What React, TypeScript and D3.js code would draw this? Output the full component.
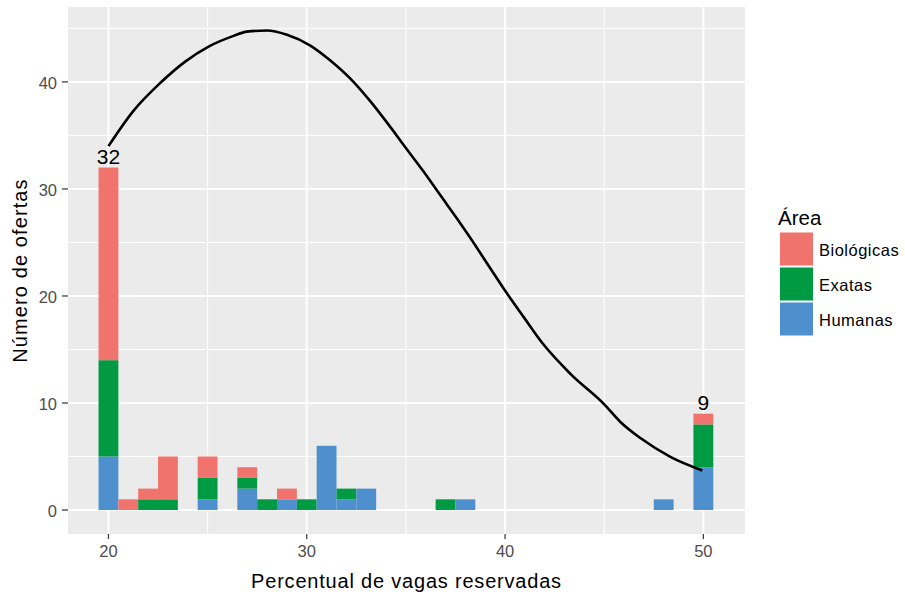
import React from "react";
import * as d3 from "d3";

const bins = [20, 21, 22, 23, 25, 27, 28, 29, 30, 31, 32, 33, 37, 38, 48, 50];
const humanas = [5, 0, 0, 0, 1, 2, 0, 1, 0, 6, 1, 2, 0, 1, 1, 4];
const exatas = [9, 0, 1, 1, 2, 1, 1, 0, 1, 0, 1, 0, 1, 0, 0, 4];
const biologicas = [18, 1, 1, 4, 2, 1, 0, 1, 0, 0, 0, 0, 0, 0, 0, 1];

const categories = ["Biológicas", "Exatas", "Humanas"];
const colors = ["#F0736D", "#009A43", "#4E8FCE"];

const curveX = [20, 21.26, 22.61, 23.87, 25.05, 26.31, 26.98, 27.99, 29.0, 30.18, 31.19, 32.2, 33.2, 34.21, 34.97, 35.9, 36.74, 37.59, 38.26, 39.18, 40.11, 40.95, 41.88, 43.31, 44.99, 45.83, 46.84, 48.36, 49.95];
const curveY = [34.0, 37.3, 39.9, 41.9, 43.3, 44.3, 44.7, 44.8, 44.4, 43.4, 42.0, 40.3, 38.2, 35.8, 33.9, 31.6, 29.4, 27.2, 25.4, 22.8, 20.2, 18.0, 15.6, 12.7, 9.9, 8.2, 6.7, 4.95, 3.7];

const xTicks = [20, 30, 40, 50];
const xMinor = [25, 35, 45];
const yTicks = [0, 10, 20, 30, 40];
const yMinor = [5, 15, 25, 35, 45];
const labelBins = [20, 50];

const W = 905, H = 596;
const pL = 68, pR = 745, pT = 7, pB = 534;

export default function App() {
  const x = d3.scaleLinear().domain([17.96, 52.1]).range([pL, pR]);
  const y = d3.scaleLinear().domain([-2.24, 47.0]).range([pB, pT]);
  const line = d3.line<number>().x((_, i) => x(curveX[i])).y((_, i) => y(curveY[i])).curve(d3.curveMonotoneX);
  const font = "Liberation Sans, Arial, sans-serif";
  const stacks = bins.map((b, i) => {
    const h = humanas[i], e = exatas[i], bi = biologicas[i];
    return [
      { c: 2, y0: 0, y1: h },
      { c: 1, y0: h, y1: h + e },
      { c: 0, y0: h + e, y1: h + e + bi },
    ].filter((s) => s.y1 > s.y0).map((s) => ({ ...s, b }));
  });
  return (
    <div style={{ position: "fixed", left: 0, top: 0 }}>
      <svg width={W} height={H} style={{ display: "block", background: "#fff" }} fontFamily={font}>
        <rect x={pL} y={pT} width={pR - pL} height={pB - pT} fill="#EBEBEB" />
        {xMinor.map((t) => (
          <line key={"xm" + t} x1={x(t)} x2={x(t)} y1={pT} y2={pB} stroke="#fff" strokeWidth={1} />
        ))}
        {yMinor.map((t) => (
          <line key={"ym" + t} x1={pL} x2={pR} y1={y(t)} y2={y(t)} stroke="#fff" strokeWidth={1} />
        ))}
        {xTicks.map((t) => (
          <line key={"xM" + t} x1={x(t)} x2={x(t)} y1={pT} y2={pB} stroke="#fff" strokeWidth={2} />
        ))}
        {yTicks.map((t) => (
          <line key={"yM" + t} x1={pL} x2={pR} y1={y(t)} y2={y(t)} stroke="#fff" strokeWidth={2} />
        ))}
        {stacks.flat().map((s, i) => (
          <rect key={"b" + i} x={x(s.b - 0.5)} width={x(s.b + 0.5) - x(s.b - 0.5)} y={y(s.y1)} height={y(s.y0) - y(s.y1)} fill={colors[s.c]} />
        ))}
        <path d={line(curveX) || ""} fill="none" stroke="#000" strokeWidth={2.6} strokeLinejoin="round" />
        {labelBins.map((b) => {
          const i = bins.indexOf(b);
          const tot = humanas[i] + exatas[i] + biologicas[i];
          return (
            <text key={"l" + b} x={x(b)} y={y(tot) - 4} textAnchor="middle" fontSize={21} fill="#000">{tot}</text>
          );
        })}
        {xTicks.map((t) => (
          <g key={"xt" + t}>
            <line x1={x(t)} x2={x(t)} y1={pB} y2={pB + 5} stroke="#333" strokeWidth={1.2} />
            <text x={x(t)} y={pB + 23} textAnchor="middle" fontSize={16.5} fill="#4D4D4D">{t}</text>
          </g>
        ))}
        {yTicks.map((t) => (
          <g key={"yt" + t}>
            <line x1={pL - 6} x2={pL} y1={y(t)} y2={y(t)} stroke="#333" strokeWidth={1.2} />
            <text x={pL - 11} y={y(t) + 7} textAnchor="end" fontSize={16.5} fill="#4D4D4D">{t}</text>
          </g>
        ))}
        <text x={(pL + pR) / 2} y={588} textAnchor="middle" fontSize={20} letterSpacing={0.8} fill="#000">Percentual de vagas reservadas</text>
        <text transform={`translate(27,${(pT + pB) / 2}) rotate(-90)`} textAnchor="middle" fontSize={20} letterSpacing={1.1} fill="#000">Número de ofertas</text>
        <text x={778} y={225} fontSize={20.5} fill="#000">Área</text>
        {categories.map((c, i) => (
          <g key={c}>
            <rect x={780} y={232.5 + i * 35} width={33} height={33} fill={colors[i]} />
            <text x={819} y={256 + i * 35} fontSize={16.5} letterSpacing={0.5} fill="#000">{c}</text>
          </g>
        ))}
      </svg>
    </div>
  );
}
